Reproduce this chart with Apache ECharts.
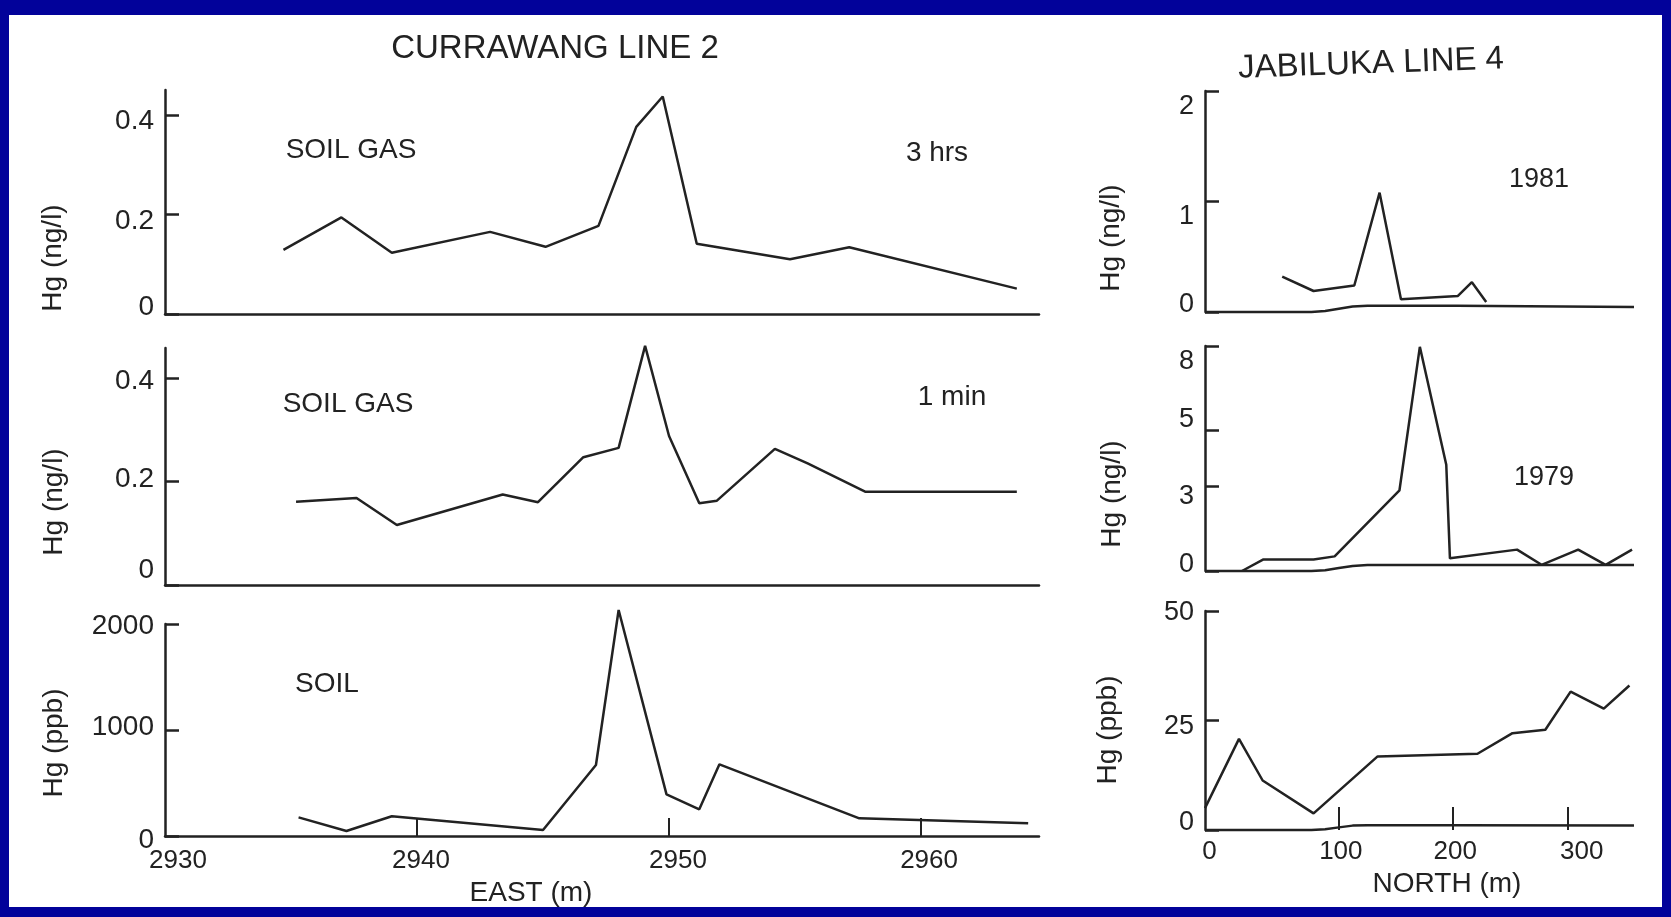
<!DOCTYPE html>
<html>
<head>
<meta charset="utf-8">
<script src="https://cdn.jsdelivr.net/npm/echarts@6/dist/echarts.min.js"></script>
<style>
  html, body { margin: 0; padding: 0; background: #02029a; }
  #paper { position: absolute; left: 9px; top: 15px; width: 1653px; height: 892px; background: #fff; }
  #main { position: absolute; left: 0; top: 0; width: 1671px; height: 917px; }
</style>
</head>
<body>
<div id="paper"></div>
<div id="main"></div>
<script>
// CURRAWANG LINE 2 - soil gas 3 hrs
const cur3hX = [2934.7, 2937.0, 2939.0, 2942.9, 2945.1, 2947.2, 2948.7, 2949.75, 2951.1, 2954.8, 2957.15, 2963.8];
const cur3hY = [0.129, 0.194, 0.123, 0.165, 0.135, 0.177, 0.376, 0.437, 0.141, 0.110, 0.134, 0.051];
// soil gas 1 min
const cur1mX = [2935.2, 2937.6, 2939.2, 2943.4, 2944.8, 2946.6, 2948.0, 2949.05, 2950.0, 2951.2, 2951.9, 2954.2, 2955.5, 2957.8, 2963.8];
const cur1mY = [0.161, 0.168, 0.116, 0.175, 0.160, 0.247, 0.265, 0.462, 0.288, 0.158, 0.163, 0.263, 0.235, 0.180, 0.180];
// soil (ppb)
const curSoilX = [2935.3, 2937.2, 2939.0, 2945.0, 2947.1, 2948.0, 2949.9, 2951.2, 2952.0, 2957.55, 2964.25];
const curSoilY = [176, 47, 186, 57, 670, 2132, 393, 252, 676, 167, 120];

// JABILUKA LINE 4
const jab81X = [50.5, 77.9, 113.5, 135.6, 154.3, 204.1, 216.3, 228.8];
const jab81Y = [0.32, 0.19, 0.24, 1.08, 0.115, 0.145, 0.27, 0.09];
const jab79X = [15.3, 34.1, 77.9, 96.3, 153.0, 170.8, 193.9, 197.1, 255.8, 277.2, 309.2, 333.2, 356.3];
const jab79Y = [0, 0.41, 0.41, 0.52, 2.87, 7.97, 3.78, 0.45, 0.76, 0.22, 0.76, 0.22, 0.76];
const jabSoilX = [-17, 12.7, 33.4, 77.9, 133.9, 221.2, 251.8, 280.5, 302.6, 331.6, 354.0];
const jabSoilY = [5, 20.8, 11.3, 3.8, 16.8, 17.4, 22.1, 22.9, 31.6, 27.7, 33.0];
// ground profile drawn along the bottom of each Jabiluka panel
const baseX = [-17, 76, 88, 100, 112, 125, 203, 358];
const base81Y = [0, 0, 0.01, 0.03, 0.05, 0.057, 0.057, 0.045];
const base79Y = [0, 0, 0.03, 0.11, 0.18, 0.21, 0.21, 0.21];
const baseSoilY = [0, 0, 0.15, 0.6, 1.0, 1.1, 1.1, 1.0];

// tick labels
const eastTicks = [2930, 2940, 2950, 2960];
const northTicks = [0, 100, 200, 300];
const ngTicks = [0, 0.2, 0.4];
const ppbTicks = [0, 1000, 2000];
const t81 = [0, 1, 2];
const t79 = [0, 3, 5, 8];
const tJabSoil = [0, 25, 50];

const INK = '#222';
const FONT = 'Liberation Sans, Arial, Helvetica, sans-serif';

function pts(xs, ys) { return xs.map((x, i) => [x, ys[i]]); }

// labels nudged a few pixels, as they sit in the scanned figure
function nudged(shifts, size) {
  const keys = Object.keys(shifts);
  const rich = {};
  keys.forEach((k, i) => {
    const [dx, dy] = shifts[k];
    rich['s' + i] = {
      fontSize: size, fontFamily: FONT, color: INK,
      padding: [Math.max(0, 2 * dy), Math.max(0, -2 * dx), Math.max(0, -2 * dy), Math.max(0, 2 * dx)]
    };
  });
  return {
    rich: rich,
    formatter: function (v) {
      const i = keys.indexOf(String(v));
      return i >= 0 ? '{s' + i + '|' + v + '}' : String(v);
    }
  };
}

function yAx(idx, max, ticks, shifts, size) {
  const n = nudged(shifts, size);
  return {
    type: 'value', gridIndex: idx, min: 0, max: max,
    axisLine: { show: true, onZero: false, lineStyle: { color: INK, width: 2.5 } },
    axisTick: { show: true, inside: true, length: 14, customValues: ticks, lineStyle: { color: INK, width: 2.5 } },
    axisLabel: { show: true, customValues: ticks, margin: 11, fontSize: size, fontFamily: FONT, color: INK,
      rich: n.rich, formatter: n.formatter },
    splitLine: { show: false }
  };
}

function xAx(idx, min, max, opts) {
  const a = {
    type: 'value', gridIndex: idx, min: min, max: max,
    axisLine: { show: opts.line, onZero: false, lineStyle: { color: INK, width: 2.5 } },
    axisTick: { show: false },
    axisLabel: { show: false },
    splitLine: { show: false }
  };
  if (opts.ticks) {
    a.axisTick = { show: true, inside: true, length: opts.tickLen, customValues: opts.ticks, lineStyle: { color: INK, width: 2 } };
  }
  if (opts.labels) {
    const n = nudged(opts.shifts, 26);
    a.axisLabel = { show: true, customValues: opts.labels, margin: opts.margin, fontSize: 26, fontFamily: FONT, color: INK,
      rich: n.rich, formatter: n.formatter };
  }
  return a;
}

function line(idx, data, z) {
  return {
    type: 'line', xAxisIndex: idx, yAxisIndex: idx, data: data,
    showSymbol: false, clip: false, z: z || 2, silent: true,
    lineStyle: { color: INK, width: 2.5 }
  };
}

function txt(x, y, s, size, rot) {
  return {
    type: 'text', x: x, y: y, rotation: rot || 0, silent: true,
    style: { text: s, fontSize: size, fontFamily: FONT, fill: INK,
      align: 'center', verticalAlign: 'middle', textAlign: 'center', textVerticalAlign: 'middle' }
  };
}

const chart = echarts.init(document.getElementById('main'));
const V = Math.PI / 2;

chart.setOption({
  animation: false,
  backgroundColor: 'transparent',
  grid: [
    { left: 165, top: 90, width: 874, height: 224, outerBoundsMode: 'none' },
    { left: 165, top: 348, width: 874, height: 237, outerBoundsMode: 'none' },
    { left: 165, top: 624, width: 874, height: 212, outerBoundsMode: 'none' },
    { left: 1205, top: 91, width: 429, height: 221, outerBoundsMode: 'none' },
    { left: 1205, top: 346, width: 429, height: 225, outerBoundsMode: 'none' },
    { left: 1205, top: 611, width: 429, height: 219, outerBoundsMode: 'none' }
  ],
  xAxis: [
    xAx(0, 2930, 2964.68, { line: true }),
    xAx(1, 2930, 2964.68, { line: true }),
    xAx(2, 2930, 2964.68, { line: true, ticks: [2940, 2950, 2960], tickLen: 18,
      labels: eastTicks, margin: 12, shifts: { 2930: [13, 0], 2940: [4, 0], 2950: [9, 0], 2960: [8, 0] } }),
    xAx(3, -17, 358, { line: false }),
    xAx(4, -17, 358, { line: false }),
    xAx(5, -17, 358, { line: false, ticks: [100, 200, 300], tickLen: 23,
      labels: northTicks, margin: 9, shifts: { 0: [-15, 0], 100: [2, 0], 200: [2, 0], 300: [14, 0] } })
  ],
  yAxis: [
    yAx(0, 0.45, ngTicks, { 0: [0, -7], 0.2: [0, 7], 0.4: [0, 6] }, 28),
    yAx(1, 0.458, ngTicks, { 0: [0, -15], 0.2: [0, -2], 0.4: [0, 3] }, 28),
    yAx(2, 2000, ppbTicks, { 0: [0, 4], 1000: [0, -3], 2000: [0, 2] }, 28),
    yAx(3, 2, t81, { 0: [0, -7], 1: [0, 15], 2: [0, 16] }, 27),
    yAx(4, 8, t79, { 0: [0, -6], 3: [0, 10], 5: [0, -11], 8: [0, 16] }, 27),
    yAx(5, 50, tJabSoil, { 0: [0, -7], 25: [0, 6], 50: [0, 2] }, 27)
  ],
  series: [
    line(0, pts(cur3hX, cur3hY)),
    line(1, pts(cur1mX, cur1mY)),
    line(2, pts(curSoilX, curSoilY)),
    line(3, pts(jab81X, jab81Y)),
    line(3, pts(baseX, base81Y), 3),
    line(4, pts(jab79X, jab79Y)),
    line(4, pts(baseX, base79Y), 3),
    line(5, pts(jabSoilX, jabSoilY)),
    line(5, pts(baseX, baseSoilY), 3)
  ],
  graphic: [
    txt(555, 49, 'CURRAWANG LINE 2', 33),
    txt(1371, 64, 'JABILUKA LINE 4', 33, 0.035),
    txt(351, 150, 'SOIL GAS', 28),
    txt(937, 153, '3 hrs', 28),
    txt(348, 404, 'SOIL GAS', 28),
    txt(952, 397, '1 min', 28),
    txt(327, 684, 'SOIL', 28),
    txt(1539, 180, '1981', 27),
    txt(1544, 478, '1979', 27),
    txt(531, 893, 'EAST (m)', 28),
    txt(1447, 884, 'NORTH (m)', 28),
    txt(53, 258, 'Hg (ng/l)', 28, V),
    txt(54, 502, 'Hg (ng/l)', 28, V),
    txt(54, 743, 'Hg (ppb)', 28, V),
    txt(1111, 238, 'Hg (ng/l)', 28, V),
    txt(1112, 494, 'Hg (ng/l)', 28, V),
    txt(1108, 730, 'Hg (ppb)', 28, V)
  ]
});
</script>
</body>
</html>
